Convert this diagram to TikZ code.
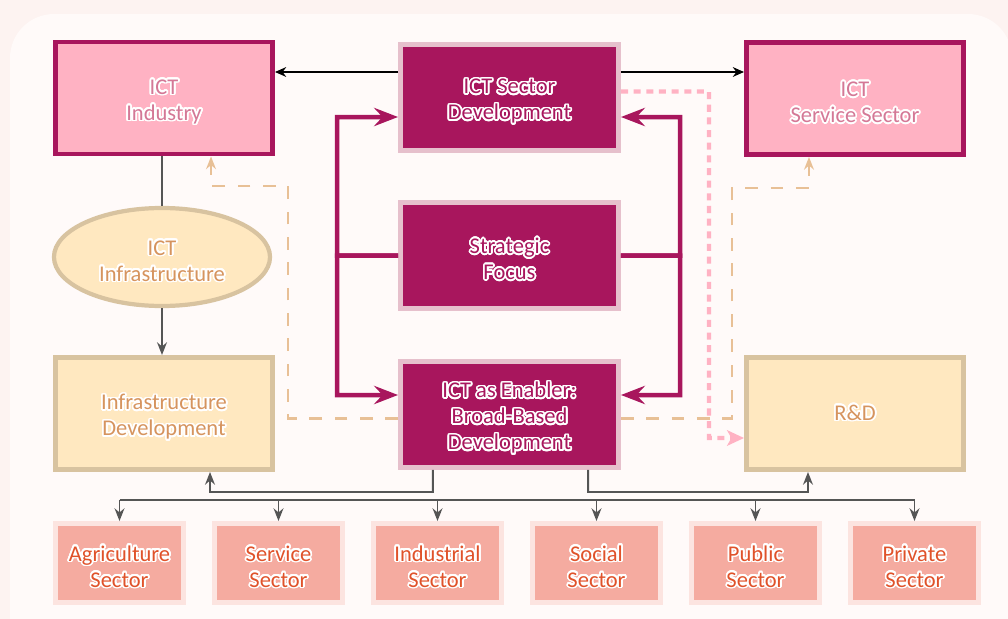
\documentclass[tikz,border=0pt]{standalone}
\usepackage{fontspec}
\setmainfont{Carlito}
\usepackage{contour}
\contourlength{1.2pt}
\contournumber{24}
\usetikzlibrary{arrows.meta,shapes.geometric}
\definecolor{bgOuter}{RGB}{253,243,241}
\definecolor{bgInner}{RGB}{255,250,249}
\definecolor{ictMagenta}{RGB}{168,22,93}
\definecolor{magentaHalo}{RGB}{230,192,204}
\definecolor{ictPink}{RGB}{255,178,195}
\definecolor{pinkText}{RGB}{212,120,150}
\definecolor{infraCream}{RGB}{255,232,192}
\definecolor{infraTan}{RGB}{216,195,160}
\definecolor{tanText}{RGB}{214,148,94}
\definecolor{tanDash}{RGB}{232,192,150}
\definecolor{sectorSalmon}{RGB}{245,171,160}
\definecolor{sectorHalo}{RGB}{252,228,224}
\definecolor{sectorText}{RGB}{224,82,42}
\definecolor{connGray}{RGB}{85,85,85}
\newcommand{\hl}[1]{\contour{white}{#1}}
\newcommand{\hltop}[1]{\rule{0pt}{17pt}\contour{white}{#1}}
\begin{document}
\begin{tikzpicture}[x=0.025cm,y=-0.025cm,
    every node/.style={font=\fontsize{16}{18.5}\selectfont,align=center,inner sep=0pt},
    outbox/.style={draw=ictMagenta,line width=3.5pt,fill=ictPink,text=pinkText,
      minimum width=5.425cm,minimum height=2.8cm},
    corebox/.style={draw=magentaHalo,line width=3.5pt,fill=ictMagenta,text=ictMagenta,
      minimum width=5.45cm,minimum height=2.65cm},
    infrabox/.style={draw=infraTan,line width=3.5pt,fill=infraCream,text=tanText,
      minimum width=5.425cm,minimum height=2.8cm},
    sectorbox/.style={draw=sectorHalo,line width=3.5pt,fill=sectorSalmon,text=sectorText,
      minimum width=3.2cm,minimum height=1.975cm},
    thinarrow/.style={-{Stealth[length=8pt,width=7pt]},line width=0.9pt,black},
    bracket/.style={line width=3.2pt,ictMagenta},
    brackettip/.style={bracket,-{Stealth[length=17pt,width=13pt,inset=6pt]}},
    tanarrow/.style={tanDash,line width=2pt,dash pattern=on 9pt off 9pt,
      -{Stealth[length=9pt,width=7pt]}},
    pinkarrow/.style={ictPink,line width=3pt,dash pattern=on 5pt off 4pt,
      -{Stealth[length=12pt,width=11pt,inset=3pt]}},
    grayline/.style={connGray,line width=1.4pt},
    grayarrow/.style={grayline,-{Stealth[length=9pt,width=7pt]}}]
  % background
  \useasboundingbox (0,0) rectangle (1008,619);
  \clip (0,0) rectangle (1008,619);
  \fill[bgOuter] (0,0) rectangle (1008,619);
  \fill[bgInner,rounded corners=1.1cm] (10,14) rectangle (1012,660);

  % top row
  \node[outbox] (industry) at (164,98) {\hltop{ICT}\\\hl{Industry}};
  \node[corebox] (secdev) at (509.5,97.5) {\hltop{ICT Sector}\\\hl{Development}};
  \node[outbox] (service) at (855,98.5) {\hltop{ICT}\\\hl{Service Sector}};

  % middle
  \node[ellipse,draw=infraTan,line width=3pt,fill=infraCream,text=tanText,
    minimum width=5.4cm,minimum height=2.45cm] (infra) at (162,257) {\hltop{ICT}\\\hl{Infrastructure}};
  \node[corebox] (focus) at (509.5,255.5) {\hltop{Strategic}\\\hl{Focus}};

  % lower row
  \node[infrabox] (infradev) at (164,413.5) {\hltop{Infrastructure}\\\hl{Development}};
  \node[corebox] (enabler) at (509.5,414.5) {\hltop{ICT as Enabler:}\\\hl{Broad-Based}\\\hl{Development}};
  \node[infrabox] (rnd) at (855,413.5) {\hl{R\&D}};

  % sectors
  \foreach \name/\lbl [count=\i from 0] in {agri/Agriculture,servsec/Service,indsec/Industrial,
      social/Social,public/Public,private/Private}
    \node[sectorbox] (\name) at ({119.5+159*\i},563) {\hltop{\lbl}\\\hl{Sector}};

  % ICT sector development to industry and service sector
  \coordinate (topleft) at ([yshift=0.6375cm]secdev.west);
  \coordinate (topright) at ([yshift=0.6375cm]secdev.east);
  \draw[thinarrow] (topleft) -- (industry.east |- topleft);
  \draw[thinarrow] (topright) -- (service.west |- topright);

  % infrastructure chain
  \draw[grayline] (infra.north |- industry.south) -- (infra.north);
  \draw[grayarrow] (infra.south) -- (infra.south |- infradev.north);

  % strategic focus brackets
  \draw[brackettip] (focus.west) -| (337,117) -- ([yshift=-0.4875cm]secdev.west);
  \draw[brackettip] (focus.west) -| (337,395) -- ([yshift=0.4875cm]enabler.west);
  \draw[brackettip] (focus.east) -| (680,117) -- ([yshift=-0.4875cm]secdev.east);
  \draw[brackettip] (focus.east) -| (680,395) -- ([yshift=0.4875cm]enabler.east);

  % dashed feedback
  \draw[tanarrow] ([yshift=-0.09cm]enabler.west) -| (288,186) -| ([xshift=1.175cm]industry.south);
  \draw[tanarrow] ([yshift=-0.09cm]enabler.east) -| (732,188) -| ([xshift=-1.15cm]service.south);
  \draw[pinkarrow] ([yshift=0.15cm]secdev.east) -| (709,438) -- ([yshift=-0.6125cm]rnd.west);

  % enabler to infrastructure and R&D
  \draw[grayarrow] ([xshift=-1.9125cm]enabler.south) |- (210,492) -- ([xshift=1.15cm]infradev.south);
  \draw[grayarrow] ([xshift=1.9625cm]enabler.south) |- (808,492) -- ([xshift=-1.175cm]rnd.south);

  % sector bus
  \coordinate (bus) at (0,500);
  \draw[grayline] (agri.north |- bus) -- (private.north |- bus);
  \foreach \name in {agri,servsec,indsec,social,public,private}
    \draw[grayarrow] (\name.north |- bus) -- (\name.north);
\end{tikzpicture}
\end{document}
